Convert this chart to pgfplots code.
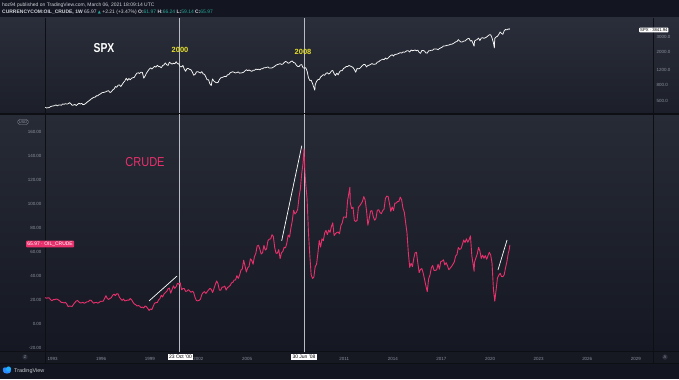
\documentclass[border=0pt]{standalone}
\usepackage{pgfplots}
\pgfplotsset{compat=1.18}
\usepackage{pgfplotstable}
\usepackage{graphicx}
\usepackage{fontspec}
\setmainfont{Liberation Sans}
\newfontfamily\dejavu{DejaVu Sans}
\definecolor{hdr}{HTML}{131620}
\definecolor{ptop}{HTML}{2A2E3A}
\definecolor{pbot}{HTML}{1C1F29}
\definecolor{btop}{HTML}{272B36}
\definecolor{bbot}{HTML}{151822}
\definecolor{tstrip}{HTML}{161922}
\definecolor{iconbg}{HTML}{2A2E39}
\definecolor{sepc}{HTML}{0D0F15}
\definecolor{tickc}{HTML}{8B909D}
\definecolor{crude}{HTML}{E8306C}
\definecolor{yel}{HTML}{E6DF2C}
\definecolor{tealc}{HTML}{26A69A}
\definecolor{hdrtxt}{HTML}{D1D4DC}
\definecolor{tvblue}{HTML}{2E8BFF}
\definecolor{vline}{HTML}{B8BBC4}

\pgfplotstableread[row sep=\\]{
Y M V \\
1992 7 22.0 \\ 1992 8 21.4 \\ 1992 9 21.9 \\ 1992 10 21.7 \\ 1992 11 20.3 \\ 1992 12 19.4 \\
1993 1 20.3 \\ 1993 2 20.3 \\ 1993 3 20.8 \\ 1993 4 20.6 \\ 1993 5 19.9 \\ 1993 6 19.1 \\ 1993 7 17.9 \\ 1993 8 18.0 \\ 1993 9 17.5 \\ 1993 10 18.1 \\ 1993 11 16.7 \\ 1993 12 14.5 \\
1994 1 15.0 \\ 1994 2 14.8 \\ 1994 3 14.7 \\ 1994 4 16.4 \\ 1994 5 17.9 \\ 1994 6 19.1 \\ 1994 7 19.6 \\ 1994 8 18.4 \\ 1994 9 17.5 \\ 1994 10 17.7 \\ 1994 11 18.1 \\ 1994 12 17.2 \\
1995 1 18.0 \\ 1995 2 18.5 \\ 1995 3 18.6 \\ 1995 4 19.9 \\ 1995 5 19.7 \\ 1995 6 18.4 \\ 1995 7 17.3 \\ 1995 8 17.9 \\ 1995 9 18.0 \\ 1995 10 17.4 \\ 1995 11 18.0 \\ 1995 12 19.0 \\
1996 1 18.9 \\ 1996 2 19.1 \\ 1996 3 21.4 \\ 1996 4 23.6 \\ 1996 5 21.2 \\ 1996 6 20.5 \\ 1996 7 21.3 \\ 1996 8 22.0 \\ 1996 9 24.0 \\ 1996 10 24.9 \\ 1996 11 23.7 \\ 1996 12 25.2 \\
1997 1 25.1 \\ 1997 2 22.2 \\ 1997 3 20.9 \\ 1997 4 19.7 \\ 1997 5 20.8 \\ 1997 6 19.2 \\ 1997 7 19.6 \\ 1997 8 19.9 \\ 1997 9 19.8 \\ 1997 10 21.3 \\ 1997 11 20.2 \\ 1997 12 18.3 \\
1998 1 16.7 \\ 1998 2 16.1 \\ 1998 3 15.0 \\ 1998 4 15.4 \\ 1998 5 14.9 \\ 1998 6 13.7 \\ 1998 7 14.1 \\ 1998 8 13.4 \\ 1998 9 15.0 \\ 1998 10 14.4 \\ 1998 11 12.9 \\ 1998 12 11.3 \\
1999 1 12.5 \\ 1999 2 12.0 \\ 1999 3 14.7 \\ 1999 4 17.3 \\ 1999 5 17.8 \\ 1999 6 17.9 \\ 1999 7 20.1 \\ 1999 8 21.3 \\ 1999 9 23.9 \\ 1999 10 22.6 \\ 1999 11 25.0 \\ 1999 12 26.1 \\
2000 1 27.2 \\ 2000 2 29.4 \\ 2000 3 29.9 \\ 2000 4 25.7 \\ 2000 5 28.8 \\ 2000 6 31.8 \\ 2000 7 29.7 \\ 2000 8 31.2 \\ 2000 9 33.9 \\ 2000 10 33.1 \\ 2000 11 34.4 \\ 2000 12 28.5 \\
2001 1 29.6 \\ 2001 2 29.6 \\ 2001 3 27.2 \\ 2001 4 27.4 \\ 2001 5 28.6 \\ 2001 6 27.6 \\ 2001 7 26.4 \\ 2001 8 27.4 \\ 2001 9 26.2 \\ 2001 10 22.2 \\ 2001 11 19.6 \\ 2001 12 19.3 \\
2002 1 19.7 \\ 2002 2 20.7 \\ 2002 3 24.5 \\ 2002 4 26.2 \\ 2002 5 27.0 \\ 2002 6 25.5 \\ 2002 7 26.9 \\ 2002 8 28.4 \\ 2002 9 29.7 \\ 2002 10 28.9 \\ 2002 11 26.3 \\ 2002 12 29.4 \\
2003 1 32.9 \\ 2003 2 35.9 \\ 2003 3 33.6 \\ 2003 4 28.3 \\ 2003 5 28.1 \\ 2003 6 30.7 \\ 2003 7 30.8 \\ 2003 8 31.6 \\ 2003 9 28.3 \\ 2003 10 30.3 \\ 2003 11 31.1 \\ 2003 12 32.1 \\
2004 1 34.3 \\ 2004 2 34.7 \\ 2004 3 36.7 \\ 2004 4 36.7 \\ 2004 5 40.3 \\ 2004 6 38.0 \\ 2004 7 40.7 \\ 2004 8 44.9 \\ 2004 9 45.9 \\ 2004 10 53.1 \\ 2004 11 48.5 \\ 2004 12 43.3 \\
2005 1 46.8 \\ 2005 2 48.0 \\ 2005 3 54.3 \\ 2005 4 53.0 \\ 2005 5 49.8 \\ 2005 6 56.3 \\ 2005 7 58.7 \\ 2005 8 65.0 \\ 2005 9 65.6 \\ 2005 10 62.4 \\ 2005 11 58.3 \\ 2005 12 59.4 \\
2006 1 65.5 \\ 2006 2 61.6 \\ 2006 3 62.7 \\ 2006 4 69.4 \\ 2006 5 70.8 \\ 2006 6 70.9 \\ 2006 7 74.4 \\ 2006 8 73.0 \\ 2006 9 63.8 \\ 2006 10 58.9 \\ 2006 11 59.1 \\ 2006 12 62.0 \\
2007 1 54.5 \\ 2007 2 59.3 \\ 2007 3 60.4 \\ 2007 4 63.9 \\ 2007 5 63.5 \\ 2007 6 67.5 \\ 2007 7 74.1 \\ 2007 8 72.4 \\ 2007 9 79.9 \\ 2007 10 85.8 \\ 2007 11 94.8 \\ 2007 12 91.7 \\
2008 1 93.0 \\ 2008 2 95.4 \\ 2008 3 105.5 \\ 2008 4 112.6 \\ 2008 5 125.4 \\ 2008 6 133.9 \\ 2008 6.7 146.0 \\ 2008 7.3 128.0 \\ 2008 8 116.7 \\ 2008 9 104.1 \\ 2008 10 76.6 \\ 2008 11 57.3 \\ 2008 12 41.1 \\
2009 1 38.0 \\ 2009 2 39.1 \\ 2009 3 47.9 \\ 2009 4 49.7 \\ 2009 5 59.0 \\ 2009 6 69.6 \\ 2009 7 64.1 \\ 2009 8 71.0 \\ 2009 9 69.4 \\ 2009 10 75.7 \\ 2009 11 78.0 \\ 2009 12 74.5 \\
2010 1 78.3 \\ 2010 2 76.4 \\ 2010 3 81.2 \\ 2010 4 84.3 \\ 2010 5 73.7 \\ 2010 6 75.3 \\ 2010 7 76.3 \\ 2010 8 76.6 \\ 2010 9 75.2 \\ 2010 10 81.9 \\ 2010 11 84.3 \\ 2010 12 89.2 \\
2011 1 89.2 \\ 2011 2 88.6 \\ 2011 3 102.9 \\ 2011 4 109.5 \\ 2011 4.7 114.0 \\ 2011 5 100.9 \\ 2011 6 96.3 \\ 2011 7 97.3 \\ 2011 8 86.3 \\ 2011 9 85.5 \\ 2011 10 86.3 \\ 2011 11 97.2 \\ 2011 12 98.6 \\
2012 1 100.3 \\ 2012 2 102.2 \\ 2012 3 106.2 \\ 2012 4 103.3 \\ 2012 5 94.7 \\ 2012 6 82.3 \\ 2012 7 87.9 \\ 2012 8 94.1 \\ 2012 9 94.5 \\ 2012 10 89.5 \\ 2012 11 86.5 \\ 2012 12 87.9 \\
2013 1 94.8 \\ 2013 2 95.3 \\ 2013 3 92.9 \\ 2013 4 92.0 \\ 2013 5 94.5 \\ 2013 6 95.8 \\ 2013 7 104.6 \\ 2013 8 106.6 \\ 2013 9 106.3 \\ 2013 10 100.5 \\ 2013 11 93.9 \\ 2013 12 97.6 \\
2014 1 94.6 \\ 2014 2 100.8 \\ 2014 3 100.8 \\ 2014 4 102.1 \\ 2014 5 102.2 \\ 2014 6 105.8 \\ 2014 7 103.6 \\ 2014 8 96.5 \\ 2014 9 93.2 \\ 2014 10 84.4 \\ 2014 11 75.8 \\ 2014 12 59.3 \\
2015 1 47.2 \\ 2015 2 50.6 \\ 2015 3 47.8 \\ 2015 4 54.5 \\ 2015 5 59.3 \\ 2015 6 59.8 \\ 2015 7 50.9 \\ 2015 8 42.9 \\ 2015 9 45.5 \\ 2015 10 46.2 \\ 2015 11 42.4 \\ 2015 12 37.2 \\
2016 1 31.7 \\ 2016 2 27.0 \\ 2016 3 37.6 \\ 2016 4 40.8 \\ 2016 5 46.7 \\ 2016 6 48.8 \\ 2016 7 44.7 \\ 2016 8 44.7 \\ 2016 9 45.2 \\ 2016 10 49.8 \\ 2016 11 45.7 \\ 2016 12 52.0 \\
2017 1 52.5 \\ 2017 2 53.5 \\ 2017 3 49.3 \\ 2017 4 51.1 \\ 2017 5 48.5 \\ 2017 6 45.2 \\ 2017 7 46.6 \\ 2017 8 48.0 \\ 2017 9 49.8 \\ 2017 10 51.6 \\ 2017 11 56.6 \\ 2017 12 57.9 \\
2018 1 63.7 \\ 2018 2 62.2 \\ 2018 3 62.7 \\ 2018 4 66.3 \\ 2018 5 70.0 \\ 2018 6 67.9 \\ 2018 7 71.0 \\ 2018 8 68.1 \\ 2018 9 70.2 \\ 2018 10 73.5 \\ 2018 11 57.0 \\ 2018 12 49.5 \\ 2018 12.7 44.0 \\
2019 1 51.4 \\ 2019 2 55.0 \\ 2019 3 58.2 \\ 2019 4 63.9 \\ 2019 5 60.8 \\ 2019 6 54.7 \\ 2019 7 57.4 \\ 2019 8 54.8 \\ 2019 9 57.0 \\ 2019 10 54.0 \\ 2019 11 57.0 \\ 2019 12 59.8 \\
2020 1 57.5 \\ 2020 2 50.5 \\ 2020 3 29.2 \\ 2020 4 19.0 \\ 2020 5 28.5 \\ 2020 6 38.3 \\ 2020 7 40.7 \\ 2020 8 42.3 \\ 2020 9 39.6 \\ 2020 10 39.4 \\ 2020 11 41.1 \\ 2020 12 47.0 \\
2021 1 52.0 \\ 2021 2 59.0 \\ 2021 2.7 61.97 \\ 2021 3.2 65.97 \\
}\crudetab

\pgfplotstableread[row sep=\\]{
Y M V \\
1992 7 424 \\ 1992 8 414 \\ 1992 9 418 \\ 1992 10 419 \\ 1992 11 431 \\ 1992 12 436 \\
1993 1 439 \\ 1993 2 443 \\ 1993 3 452 \\ 1993 4 440 \\ 1993 5 450 \\ 1993 6 451 \\ 1993 7 448 \\ 1993 8 464 \\ 1993 9 459 \\ 1993 10 468 \\ 1993 11 462 \\ 1993 12 466 \\
1994 1 482 \\ 1994 2 467 \\ 1994 3 446 \\ 1994 4 451 \\ 1994 5 457 \\ 1994 6 444 \\ 1994 7 458 \\ 1994 8 475 \\ 1994 9 463 \\ 1994 10 472 \\ 1994 11 454 \\ 1994 12 459 \\
1995 1 470 \\ 1995 2 487 \\ 1995 3 501 \\ 1995 4 515 \\ 1995 5 533 \\ 1995 6 545 \\ 1995 7 562 \\ 1995 8 562 \\ 1995 9 584 \\ 1995 10 582 \\ 1995 11 605 \\ 1995 12 616 \\
1996 1 636 \\ 1996 2 640 \\ 1996 3 646 \\ 1996 4 654 \\ 1996 5 669 \\ 1996 6 671 \\ 1996 7 640 \\ 1996 8 652 \\ 1996 9 687 \\ 1996 10 705 \\ 1996 11 757 \\ 1996 12 741 \\
1997 1 786 \\ 1997 2 791 \\ 1997 3 757 \\ 1997 4 801 \\ 1997 5 848 \\ 1997 6 885 \\ 1997 7 954 \\ 1997 8 899 \\ 1997 9 947 \\ 1997 10 915 \\ 1997 11 955 \\ 1997 12 970 \\
1998 1 980 \\ 1998 2 1049 \\ 1998 3 1102 \\ 1998 4 1112 \\ 1998 5 1091 \\ 1998 6 1134 \\ 1998 7 1121 \\ 1998 8 957 \\ 1998 9 1017 \\ 1998 10 1099 \\ 1998 11 1164 \\ 1998 12 1229 \\
1999 1 1280 \\ 1999 2 1238 \\ 1999 3 1286 \\ 1999 4 1335 \\ 1999 5 1302 \\ 1999 6 1373 \\ 1999 7 1329 \\ 1999 8 1320 \\ 1999 9 1283 \\ 1999 10 1363 \\ 1999 11 1389 \\ 1999 12 1469 \\
2000 1 1394 \\ 2000 2 1366 \\ 2000 3 1499 \\ 2000 4 1452 \\ 2000 5 1421 \\ 2000 6 1455 \\ 2000 7 1431 \\ 2000 8 1518 \\ 2000 9 1437 \\ 2000 10 1429 \\ 2000 11 1315 \\ 2000 12 1320 \\
2001 1 1366 \\ 2001 2 1240 \\ 2001 3 1160 \\ 2001 4 1249 \\ 2001 5 1256 \\ 2001 6 1224 \\ 2001 7 1211 \\ 2001 8 1134 \\ 2001 9 1041 \\ 2001 10 1060 \\ 2001 11 1139 \\ 2001 12 1148 \\
2002 1 1130 \\ 2002 2 1107 \\ 2002 3 1147 \\ 2002 4 1077 \\ 2002 5 1067 \\ 2002 6 990 \\ 2002 7 912 \\ 2002 8 916 \\ 2002 9 815 \\ 2002 10 777 \\ 2002 10.6 886 \\ 2002 11 936 \\ 2002 12 880 \\
2003 1 856 \\ 2003 2 841 \\ 2003 3 848 \\ 2003 4 917 \\ 2003 5 964 \\ 2003 6 975 \\ 2003 7 990 \\ 2003 8 1008 \\ 2003 9 996 \\ 2003 10 1051 \\ 2003 11 1058 \\ 2003 12 1112 \\
2004 1 1131 \\ 2004 2 1145 \\ 2004 3 1126 \\ 2004 4 1107 \\ 2004 5 1121 \\ 2004 6 1141 \\ 2004 7 1102 \\ 2004 8 1104 \\ 2004 9 1115 \\ 2004 10 1130 \\ 2004 11 1174 \\ 2004 12 1212 \\
2005 1 1181 \\ 2005 2 1204 \\ 2005 3 1181 \\ 2005 4 1157 \\ 2005 5 1192 \\ 2005 6 1191 \\ 2005 7 1234 \\ 2005 8 1220 \\ 2005 9 1229 \\ 2005 10 1207 \\ 2005 11 1249 \\ 2005 12 1248 \\
2006 1 1280 \\ 2006 2 1281 \\ 2006 3 1295 \\ 2006 4 1311 \\ 2006 5 1270 \\ 2006 6 1270 \\ 2006 7 1277 \\ 2006 8 1304 \\ 2006 9 1336 \\ 2006 10 1378 \\ 2006 11 1401 \\ 2006 12 1418 \\
2007 1 1438 \\ 2007 2 1407 \\ 2007 3 1421 \\ 2007 4 1482 \\ 2007 5 1531 \\ 2007 6 1503 \\ 2007 7 1455 \\ 2007 8 1474 \\ 2007 9 1527 \\ 2007 10 1549 \\ 2007 11 1481 \\ 2007 12 1468 \\
2008 1 1379 \\ 2008 2 1331 \\ 2008 3 1323 \\ 2008 4 1386 \\ 2008 5 1400 \\ 2008 6 1280 \\ 2008 7 1267 \\ 2008 8 1283 \\ 2008 9 1165 \\ 2008 10 969 \\ 2008 11 896 \\ 2008 12 903 \\
2009 1 826 \\ 2009 2 735 \\ 2009 2.7 683 \\ 2009 3 798 \\ 2009 4 873 \\ 2009 5 919 \\ 2009 6 919 \\ 2009 7 987 \\ 2009 8 1021 \\ 2009 9 1057 \\ 2009 10 1036 \\ 2009 11 1096 \\ 2009 12 1115 \\
2010 1 1074 \\ 2010 2 1104 \\ 2010 3 1169 \\ 2010 4 1187 \\ 2010 5 1089 \\ 2010 6 1031 \\ 2010 7 1102 \\ 2010 8 1049 \\ 2010 9 1141 \\ 2010 10 1183 \\ 2010 11 1181 \\ 2010 12 1258 \\
2011 1 1286 \\ 2011 2 1327 \\ 2011 3 1326 \\ 2011 4 1364 \\ 2011 5 1345 \\ 2011 6 1321 \\ 2011 7 1292 \\ 2011 8 1219 \\ 2011 9 1131 \\ 2011 10 1253 \\ 2011 11 1247 \\ 2011 12 1258 \\
2012 1 1312 \\ 2012 2 1366 \\ 2012 3 1408 \\ 2012 4 1398 \\ 2012 5 1310 \\ 2012 6 1362 \\ 2012 7 1379 \\ 2012 8 1407 \\ 2012 9 1441 \\ 2012 10 1412 \\ 2012 11 1416 \\ 2012 12 1426 \\
2013 1 1498 \\ 2013 2 1515 \\ 2013 3 1569 \\ 2013 4 1598 \\ 2013 5 1631 \\ 2013 6 1606 \\ 2013 7 1686 \\ 2013 8 1633 \\ 2013 9 1682 \\ 2013 10 1757 \\ 2013 11 1806 \\ 2013 12 1848 \\
2014 1 1783 \\ 2014 2 1859 \\ 2014 3 1872 \\ 2014 4 1884 \\ 2014 5 1924 \\ 2014 6 1960 \\ 2014 7 1931 \\ 2014 8 2003 \\ 2014 9 1972 \\ 2014 10 2018 \\ 2014 11 2068 \\ 2014 12 2059 \\
2015 1 1995 \\ 2015 2 2105 \\ 2015 3 2068 \\ 2015 4 2086 \\ 2015 5 2107 \\ 2015 6 2063 \\ 2015 7 2104 \\ 2015 8 1972 \\ 2015 9 1920 \\ 2015 10 2079 \\ 2015 11 2080 \\ 2015 12 2044 \\
2016 1 1940 \\ 2016 2 1932 \\ 2016 3 2060 \\ 2016 4 2065 \\ 2016 5 2097 \\ 2016 6 2099 \\ 2016 7 2174 \\ 2016 8 2171 \\ 2016 9 2168 \\ 2016 10 2126 \\ 2016 11 2199 \\ 2016 12 2239 \\
2017 1 2279 \\ 2017 2 2364 \\ 2017 3 2363 \\ 2017 4 2384 \\ 2017 5 2412 \\ 2017 6 2423 \\ 2017 7 2470 \\ 2017 8 2472 \\ 2017 9 2519 \\ 2017 10 2575 \\ 2017 11 2648 \\ 2017 12 2674 \\
2018 1 2824 \\ 2018 2 2714 \\ 2018 3 2641 \\ 2018 4 2648 \\ 2018 5 2705 \\ 2018 6 2718 \\ 2018 7 2816 \\ 2018 8 2902 \\ 2018 9 2914 \\ 2018 10 2712 \\ 2018 11 2760 \\ 2018 12 2507 \\ 2018 12.7 2351 \\
2019 1 2704 \\ 2019 2 2784 \\ 2019 3 2834 \\ 2019 4 2946 \\ 2019 5 2752 \\ 2019 6 2942 \\ 2019 7 2980 \\ 2019 8 2926 \\ 2019 9 2977 \\ 2019 10 3038 \\ 2019 11 3141 \\ 2019 12 3231 \\
2020 1 3226 \\ 2020 2 2954 \\ 2020 3 2585 \\ 2020 3.7 2237 \\ 2020 4 2912 \\ 2020 5 3044 \\ 2020 6 3100 \\ 2020 7 3271 \\ 2020 8 3500 \\ 2020 9 3363 \\ 2020 10 3270 \\ 2020 11 3622 \\ 2020 12 3756 \\
2021 1 3714 \\ 2021 2 3811 \\ 2021 2.7 3768 \\ 2021 3.2 3842 \\
}\spxtab

\begin{document}
\begin{tikzpicture}[x=1bp,y=1bp]
\useasboundingbox (0,0) rectangle (679,379);
\fill[hdr] (0,0) rectangle (679,379);
\shade[top color=ptop,bottom color=pbot] (0,265) rectangle (679,361);
\shade[top color=btop,bottom color=bbot] (0,28) rectangle (679,265);
\fill[tstrip] (0,16) rectangle (679,28);
\draw[sepc,line width=1.2bp] (0,265) -- (679,265);
\draw[sepc,line width=0.8bp] (0,28) -- (679,28);
\draw[sepc,line width=0.8bp] (0,16) -- (679,16);
\draw[sepc,line width=0.8bp] (45,16) -- (45,361);
\draw[sepc,line width=0.8bp] (653,16) -- (653,361);

% top pane: SPX (log)
\begin{axis}[
  at={(45bp,266bp)}, anchor=south west, scale only axis,
  width=608bp, height=94bp,
  xmin=1992.53, xmax=2030.06,
  ymode=log, ymin=360, ymax=5036,
  axis line style={draw=none}, tick style={draw=none},
  xtick=\empty,
  ytick={500,800,1200,2000,3000},
  yticklabels={500.0,800.0,1200.0,2000.0,3000.0},
  yticklabel pos=right,
  yticklabel style={font=\fontsize{4.5}{5}\selectfont, text=tickc},
  minor ytick={},
]
\addplot[color=vline, line width=0.4bp, mark=none] coordinates {(2000.81,100) (2000.81,10000)};
\addplot[color=vline, line width=0.4bp, mark=none] coordinates {(2008.50,100) (2008.50,10000)};
\addplot[color=white!92!gray, line width=0.75bp, mark=none, line join=round]
  table[x expr=\thisrow{Y}+(\thisrow{M}-0.5)/12, y=V]{\spxtab};
\end{axis}

% bottom pane: crude
\begin{axis}[
  at={(45bp,28bp)}, anchor=south west, scale only axis,
  width=608bp, height=236bp,
  xmin=1992.53, xmax=2030.06,
  ymin=-22.5, ymax=174.2,
  axis line style={draw=none}, tick style={draw=none},
  /pgf/number format/assume math mode=true,
  xtick={1993,1996,1999,2002,2005,2011,2014,2017,2020,2023,2026,2029},
  xticklabel style={font=\fontsize{4.5}{5}\selectfont, text=tickc, /pgf/number format/1000 sep={}, yshift=-2.5bp},
  ytick={-20,0,...,160},
  yticklabel style={font=\fontsize{4.5}{5}\selectfont, text=tickc,
    /pgf/number format/fixed, /pgf/number format/fixed zerofill, /pgf/number format/precision=2},
]
\addplot[color=vline, line width=0.4bp, mark=none] coordinates {(2000.81,-100) (2000.81,300)};
\addplot[color=vline, line width=0.4bp, mark=none] coordinates {(2008.50,-100) (2008.50,300)};
\addplot[color=crude, line width=0.9bp, mark=none, line join=round]
  table[x expr=\thisrow{Y}+(\thisrow{M}-0.5)/12, y=V]{\crudetab};
% hand-drawn trend lines
\addplot[color=white, line width=0.7bp, mark=none] coordinates {(1998.95,19.2) (2000.68,40.0)};
\addplot[color=white, line width=0.7bp, mark=none] coordinates {(2007.14,69.4) (2008.38,148.6)};
\addplot[color=white, line width=0.7bp, mark=none] coordinates {(2020.49,45.0) (2021.05,70.0)};
\end{axis}

% annotations
\node[text=white, font=\fontsize{13}{14}\selectfont\bfseries] at (104,331) {\scalebox{0.8}[1]{SPX}};
\node[text=yel, font=\fontsize{7.5}{8}\selectfont\bfseries] at (180,329) {2000};
\node[text=yel, font=\fontsize{7.5}{8}\selectfont\bfseries] at (303,327) {2008};
\node[text=crude, font=\fontsize{13}{14}\selectfont] at (145,217) {\scalebox{0.85}[1]{CRUDE}};

% header
\node[anchor=west, inner sep=0, text=hdrtxt, font=\fontsize{5}{6}\selectfont] at (2,373.5) {hoz94 published on TradingView.com, March 06, 2021 18:09:14 UTC};
\node[anchor=west, inner sep=0, text=hdrtxt, font=\fontsize{5}{6}\selectfont] at (2,366.5) {\textbf{CURRENCYCOM:OIL\_CRUDE, 1W} 65.97 {\color{tealc}\dejavu\fontsize{4}{5}\selectfont ▲} +2.21 (+3.47\%) \textbf{O:}\textcolor{tealc}{61.97} \textbf{H:}\textcolor{tealc}{66.24} \textbf{L:}\textcolor{tealc}{59.14} \textbf{C:}\textcolor{tealc}{65.97}};

% price scale tags
\node[anchor=center, draw=tickc, line width=0.3bp, rounded corners=1.5bp, inner sep=1bp, text=tickc, font=\fontsize{4}{5}\selectfont] at (23,257) {USD};
\node[anchor=west, fill=crude, rounded corners=0.8bp, inner sep=1.2bp, text=white, font=\fontsize{5}{6}\selectfont] at (26,135) {65.97 · OIL\_CRUDE};
\node[anchor=west, fill=white, rounded corners=0.8bp, inner sep=1bp, text=black, font=\fontsize{4.2}{5}\selectfont] at (639,349) {SPX · 3841.94};

% time scale crosshair labels
\node[fill=white, inner sep=1.5bp, text=black, font=\fontsize{5}{6}\selectfont] at (180.5,22) {23 Oct '00};
\node[fill=white, inner sep=1.5bp, text=black, font=\fontsize{5}{6}\selectfont] at (304,22) {30 Jun '08};
\node[circle, fill=iconbg, inner sep=0.6bp, text=tickc, font=\fontsize{4}{5}\selectfont] at (25,22) {Z};
\node[circle, fill=iconbg, inner sep=0.6bp, text=tickc, font=\fontsize{4}{5}\selectfont] at (665,22) {A};

% logo
\fill[tvblue] (7,8) ellipse (4bp and 2.6bp);
\fill[tvblue] (5,9.5) circle (2.2bp);
\fill[tvblue!70!cyan] (8.5,10) circle (2.6bp);
\node[anchor=west, inner sep=0, text=hdrtxt!85!gray, font=\fontsize{5.5}{6}\selectfont] at (14,8) {TradingView};
\end{tikzpicture}
\end{document}
